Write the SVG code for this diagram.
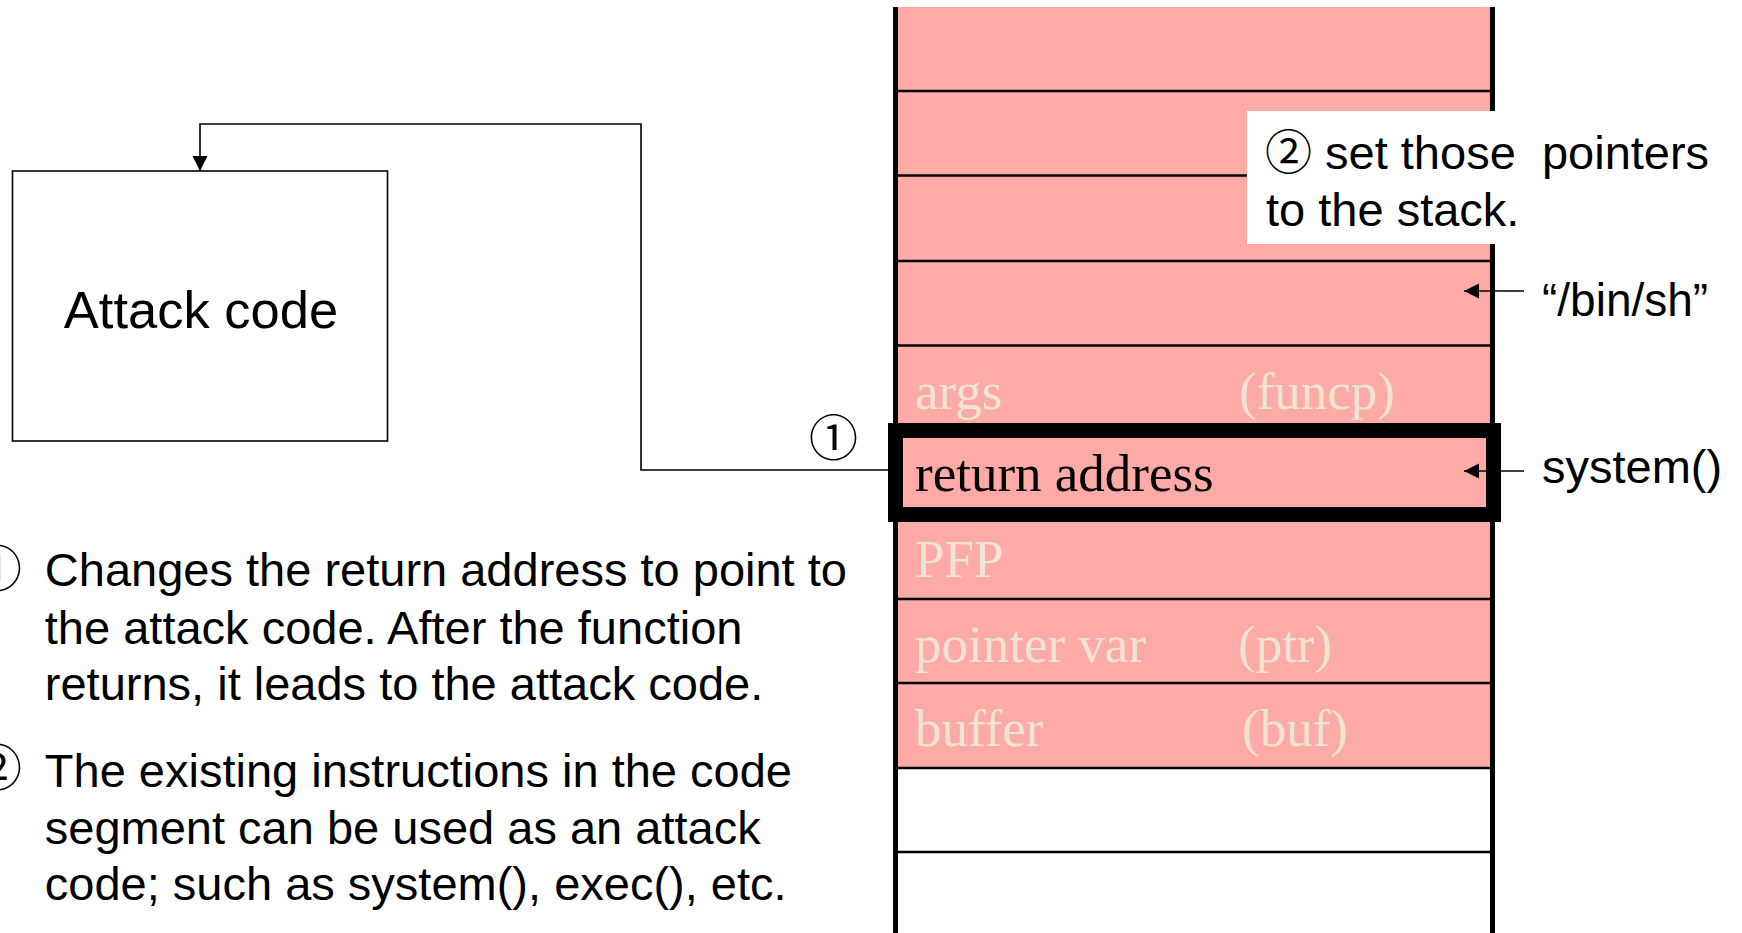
<svg xmlns="http://www.w3.org/2000/svg" width="1742" height="933" viewBox="0 0 1742 933">
  <style>
    .sans { font-family: "Liberation Sans", Arial, "Noto Sans CJK JP", sans-serif; fill: #000; }
    .cjk { font-family: "Noto Sans CJK JP", "DejaVu Sans", sans-serif; fill: #000; }
    .serif { font-family: "Liberation Serif", "Times New Roman", serif; font-size: 53px; }
    .light { fill: #EEE4D1; }
    .dark { fill: #000; }
    .row { stroke: #000; stroke-width: 2.5; }
    .wall { stroke: #000; stroke-width: 5; }
    .conn { fill: none; stroke: #000; stroke-width: 1.6; }
  </style>
  <defs>
    <marker id="arrow" markerUnits="userSpaceOnUse" markerWidth="16" markerHeight="16" refX="15" refY="8" orient="auto">
      <path d="M0,0.5 L15,8 L0,15.5 Z" fill="#000"/>
    </marker>
  </defs>
  <rect x="0" y="0" width="1742" height="933" fill="#FFFFFF"/>

  <g id="stack">
    <rect x="895.5" y="7" width="597" height="761" fill="#FEAAA7"/>
    <line class="row" x1="895.5" y1="91" x2="1492.5" y2="91"/>
    <line class="row" x1="895.5" y1="175.5" x2="1492.5" y2="175.5"/>
    <line class="row" x1="895.5" y1="261" x2="1492.5" y2="261"/>
    <line class="row" x1="895.5" y1="345.5" x2="1492.5" y2="345.5"/>
    <line class="row" x1="895.5" y1="599" x2="1492.5" y2="599"/>
    <line class="row" x1="895.5" y1="683" x2="1492.5" y2="683"/>
    <line class="row" x1="895.5" y1="768" x2="1492.5" y2="768"/>
    <line class="row" x1="895.5" y1="852" x2="1492.5" y2="852"/>
    <line class="wall" x1="895.5" y1="7" x2="895.5" y2="933"/>
    <line class="wall" x1="1492.5" y1="7" x2="1492.5" y2="933"/>
  </g>

  <g id="stack-labels">
    <text class="serif light" x="915" y="409">args</text>
    <text class="serif light" x="1239" y="409">(funcp)</text>
    <text class="serif dark" x="915" y="491">return address</text>
    <text class="serif light" x="915" y="577">PFP</text>
    <text class="serif light" x="915" y="662">pointer var</text>
    <text class="serif light" x="1238" y="662">(ptr)</text>
    <text class="serif light" x="915" y="746">buffer</text>
    <text class="serif light" x="1242" y="746">(buf)</text>
  </g>

  <g id="return-address-highlight">
    <rect x="895.5" y="430.5" width="598" height="84" fill="none" stroke="#000" stroke-width="15"/>
  </g>

  <g id="note-pointers">
    <rect x="1247" y="111" width="495" height="133" fill="#FFFFFF"/>
    <text class="sans" x="1265" y="169" font-size="47" xml:space="preserve">② set those  pointers</text>
    <text class="sans" x="1266" y="226" font-size="47">to the stack.</text>
  </g>

  <g id="attack-code">
    <rect x="12.5" y="171" width="375" height="270" fill="#FFFFFF" stroke="#000" stroke-width="1.6"/>
    <text class="sans" x="201" y="328" font-size="52.5" text-anchor="middle">Attack code</text>
  </g>

  <g id="connectors">
    <path class="conn" d="M895,470 H641 V124 H200 V171" marker-end="url(#arrow)"/>
    <path class="conn" d="M1524,291 H1464" marker-end="url(#arrow)"/>
    <path class="conn" d="M1524,471 H1464" marker-end="url(#arrow)"/>
  </g>

  <g id="side-labels">
    <text class="cjk" x="809" y="456" font-size="49">①</text>
    <text class="sans" x="1542" y="316" font-size="46">“/bin/sh”</text>
    <text class="sans" x="1542" y="483" font-size="47">system()</text>
  </g>

  <g id="notes">
    <text class="cjk" x="-28" y="587" font-size="50">①</text>
    <text class="sans" x="44.8" y="586" font-size="47">Changes the return address to point to</text>
    <text class="sans" x="44.8" y="643.5" font-size="47">the attack code. After the function</text>
    <text class="sans" x="44.8" y="700" font-size="47">returns, it leads to the attack code.</text>
    <text class="cjk" x="-28" y="786" font-size="50">②</text>
    <text class="sans" x="44.8" y="786.5" font-size="47">The existing instructions in the code</text>
    <text class="sans" x="44.8" y="843.5" font-size="47">segment can be used as an attack</text>
    <text class="sans" x="44.8" y="900" font-size="47">code; such as system(), exec(), etc.</text>
  </g>
</svg>
